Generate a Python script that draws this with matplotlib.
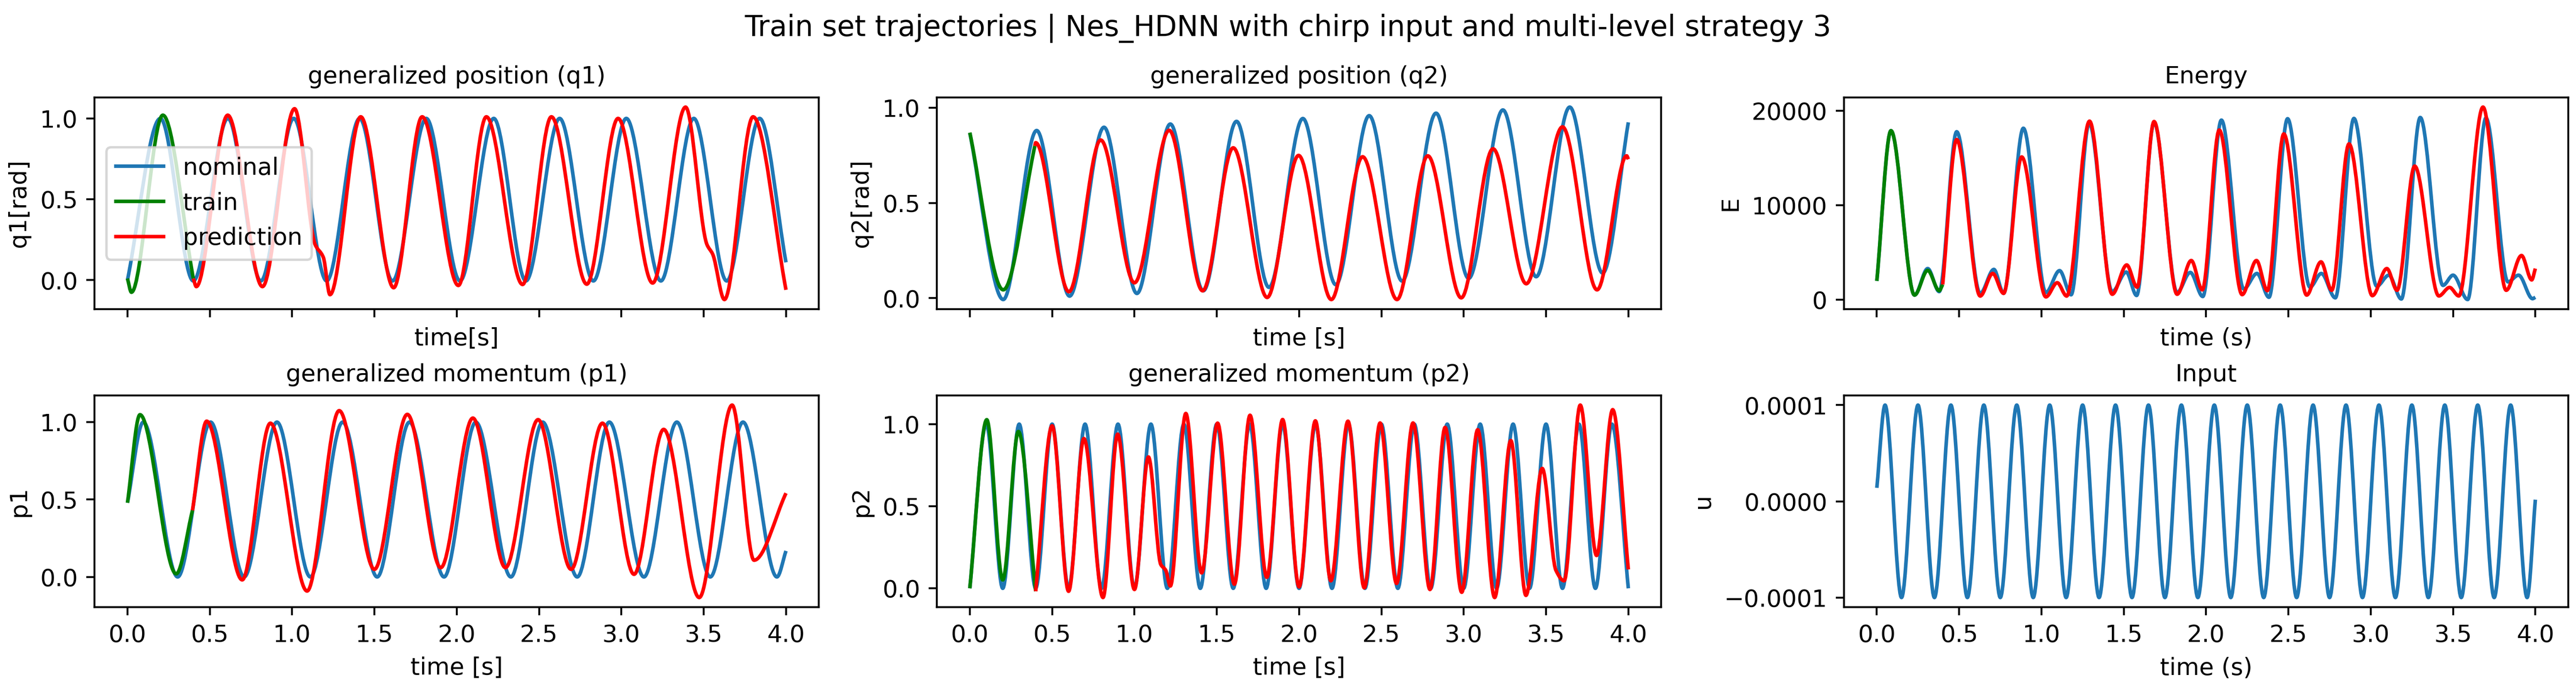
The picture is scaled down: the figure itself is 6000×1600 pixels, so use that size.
import numpy as np
import matplotlib
matplotlib.use('Agg')
import matplotlib.pyplot as plt
from matplotlib.path import Path
from matplotlib.patches import PathPatch

"""
Values read off the reference: each series is given by its turning points
(time, value); the curve between them is drawn as a smooth bezier path.
"""
NOMINAL_COLOR = 'tab:blue'
TRAIN_COLOR = 'green'
PRED_COLOR = 'red'

# ---------- q1 ----------
q1_nom_t = [0.0, 0.2, 0.40, 0.61, 0.81, 1.01, 1.21, 1.41, 1.61, 1.815, 2.02,
            2.225, 2.42, 2.625, 2.83, 3.03, 3.24, 3.44, 3.64, 3.84, 4.0]
q1_nom_v = [0.0, 1.0, -0.005, 1.0, -0.005, 1.0, -0.005, 1.0, -0.005, 1.0, -0.005,
            1.0, -0.005, 1.0, -0.005, 1.0, -0.005, 1.0, -0.005, 1.0, 0.11]
q1_train_t = [0.0, 0.024, 0.215, 0.40]
q1_train_v = [0.01, -0.075, 1.02, 0.01]
q1_pred_t = [0.40, 0.418, 0.609, 0.82, 1.015, 1.14, 1.19, 1.23, 1.417, 1.617, 1.79,
             2.01, 2.18, 2.40, 2.575, 2.79, 2.98, 3.19, 3.39, 3.52, 3.555, 3.626,
             3.80, 4.0]
q1_pred_v = [0.01, -0.04, 1.02, -0.04, 1.06, 0.22, 0.14, -0.09, 1.01, -0.047, 1.01,
             -0.033, 1.01, -0.027, 1.01, -0.025, 1.0, -0.018, 1.07, 0.22, 0.16, -0.12,
             1.01, -0.06]

# ---------- q2 ----------
q2_nom_t = [0.0, 0.203, 0.406, 0.606, 0.815, 1.015, 1.218, 1.418, 1.62, 1.817, 2.023,
            2.223, 2.426, 2.626, 2.832, 3.03, 3.238, 3.44, 3.644, 3.844, 4.0]
q2_nom_v = [0.868, -0.007, 0.881, 0.011, 0.898, 0.025, 0.915, 0.039, 0.929, 0.057, 0.944,
            0.071, 0.959, 0.09, 0.972, 0.104, 0.989, 0.113, 1.004, 0.132, 0.924]
q2_train_t = [0.0, 0.203, 0.395]
q2_train_v = [0.87, 0.044, 0.80]
q2_pred_t = [0.395, 0.40, 0.602, 0.795, 1.0, 1.211, 1.414, 1.60, 1.806, 1.997, 2.196,
             2.386, 2.595, 2.782, 2.985, 3.178, 3.38, 3.60, 3.81, 3.99, 4.0]
q2_pred_v = [0.80, 0.817, 0.034, 0.831, 0.081, 0.882, 0.039, 0.79, 0.004, 0.75, -0.007,
             0.743, -0.007, 0.748, 0.002, 0.785, 0.076, 0.90, 0.044, 0.748, 0.73]

# ---------- Energy ----------
e_nom_t = [0.0, 0.086, 0.229, 0.309, 0.379, 0.485, 0.628, 0.711, 0.77, 0.89, 1.027,
           1.11, 1.18, 1.29, 1.43, 1.515, 1.578, 1.684, 1.824, 1.904, 1.98, 2.093,
           2.229, 2.309, 2.382, 2.495, 2.631, 2.70, 2.785, 2.898, 3.037, 3.11, 3.186,
           3.301, 3.439, 3.50, 3.589, 3.70, 3.834, 3.898, 3.983, 4.0]
e_nom_v = [1990, 17900, 490, 3300, 860, 17790, 675, 3210, 675, 18160, 770,
           3080, 525, 18690, 860, 2930, 450, 18780, 770, 2890, 340, 19020,
           1140, 2780, 260, 19170, 1330, 2780, 200, 19200, 1430, 2600, 75,
           19300, 1520, 2600, 20, 19250, 1890, 2600, 110, 260]
e_train_t = [0.0, 0.086, 0.229, 0.309, 0.379, 0.40]
e_train_v = [1990, 17900, 490, 3110, 960, 1610]
e_pred_t = [0.40, 0.485, 0.628, 0.704, 0.77, 0.88, 1.027, 1.096, 1.153, 1.292, 1.43,
            1.518, 1.581, 1.684, 1.824, 1.91, 1.977, 2.08, 2.219, 2.306, 2.372, 2.472,
            2.611, 2.698, 2.763, 2.868, 3.01, 3.098, 3.16, 3.267, 3.414, 3.479, 3.535,
            3.682, 3.823, 3.916, 3.978, 4.0]
e_pred_v = [1610, 16960, 390, 2780, 675, 15120, 300, 1800, 390, 18910, 580,
            3680, 1330, 18870, 580, 4150, 1050, 17970, 540, 4150, 960, 17560,
            490, 4010, 1000, 16500, 430, 3300, 1000, 14150, 400, 1300, 400,
            20400, 1000, 4680, 2100, 3300]

# ---------- p1 ----------
p1_nom_t = [0.0, 0.096, 0.305, 0.505, 0.709, 0.908, 1.111, 1.307, 1.517, 1.713, 1.923,
            2.116, 2.329, 2.522, 2.732, 2.927, 3.137, 3.337, 3.54, 3.739, 3.945, 4.0]
p1_nom_v = [0.479, 1.0, 0.0, 1.0, 0.0, 1.0, 0.0, 1.0, 0.0, 1.0, 0.0,
            1.0, 0.0, 1.0, 0.0, 1.0, 0.0, 1.0, 0.0, 1.0, 0.0, 0.168]
p1_train_t = [0.0, 0.076, 0.296, 0.395]
p1_train_v = [0.479, 1.048, 0.02, 0.43]
p1_pred_t = [0.395, 0.481, 0.697, 0.868, 1.091, 1.286, 1.50, 1.70, 1.903, 2.098, 2.296,
             2.494, 2.695, 2.885, 3.077, 3.257, 3.473, 3.673, 3.806, 4.0]
p1_pred_v = [0.43, 1.006, -0.019, 0.993, -0.091, 1.074, 0.049, 1.05, 0.06, 1.026, 0.06,
             1.016, 0.049, 0.993, 0.017, 0.953, -0.133, 1.11, 0.108, 0.541]

# ---------- p2 ----------
p2_nom_t = [0.0, 0.1, 0.2, 0.3, 0.4, 0.5, 0.6, 0.7, 0.8, 0.9, 1.0, 1.1, 1.2, 1.3,
            1.4, 1.5, 1.6, 1.7, 1.8, 1.9, 2.0, 2.1, 2.2, 2.3, 2.4, 2.5, 2.6, 2.7,
            2.8, 2.9, 3.0, 3.1, 3.2, 3.3, 3.4, 3.5, 3.6, 3.7, 3.8, 3.9, 4.0]
p2_nom_v = [0.0, 1.0, 0.0, 1.0, 0.0, 1.0, 0.0, 1.0, 0.0, 1.0, 0.0, 1.0, 0.0, 1.0,
            0.0, 1.0, 0.0, 1.0, 0.0, 1.0, 0.0, 1.0, 0.0, 1.0, 0.0, 1.0, 0.0, 1.0,
            0.0, 1.0, 0.0, 1.0, 0.0, 1.0, 0.0, 1.0, 0.0, 1.0, 0.0, 1.0, 0.0]
p2_train_t = [0.0, 0.103, 0.2, 0.295, 0.40]
p2_train_v = [0.0, 1.027, 0.051, 0.955, -0.018]
p2_pred_t = [0.40, 0.50, 0.60, 0.693, 0.809, 0.898, 1.0, 1.085, 1.16, 1.19, 1.218,
             1.312, 1.408, 1.505, 1.607, 1.702, 1.804, 1.90, 2.0, 2.099, 2.193, 2.297,
             2.396, 2.492, 2.592, 2.692, 2.795, 2.887, 2.988, 3.085, 3.188, 3.286,
             3.378, 3.477, 3.56, 3.61, 3.708, 3.807, 3.905, 4.0]
p2_pred_v = [-0.018, 0.99, -0.018, 0.912, -0.056, 0.939, -0.007, 0.80, 0.145, 0.11, 0.014,
             1.065, 0.094, 1.006, 0.025, 1.054, 0.067, 1.028, 0.009, 1.02, 0.046, 1.018,
             0.003, 1.007, 0.03, 1.007, -0.007, 0.98, -0.024, 0.966, -0.056, 0.90,
             -0.043, 0.73, 0.11, 0.046, 1.116, 0.20, 1.088, 0.115]

# ---------- input ----------
u_t = [0.0, 0.05, 0.15, 0.25, 0.35, 0.45, 0.55, 0.65, 0.75, 0.85, 0.95, 1.05, 1.15,
       1.25, 1.35, 1.45, 1.55, 1.65, 1.75, 1.85, 1.95, 2.05, 2.15, 2.25, 2.35, 2.45,
       2.55, 2.65, 2.75, 2.85, 2.95, 3.05, 3.15, 3.25, 3.35, 3.45, 3.55, 3.65, 3.75,
       3.85, 3.95, 4.0]
u_v = [1.4e-5, 1e-4, -1e-4, 1e-4, -1e-4, 1e-4, -1e-4, 1e-4, -1e-4, 1e-4, -1e-4,
       1e-4, -1e-4, 1e-4, -1e-4, 1e-4, -1e-4, 1e-4, -1e-4, 1e-4, -1e-4, 1e-4,
       -1e-4, 1e-4, -1e-4, 1e-4, -1e-4, 1e-4, -1e-4, 1e-4, -1e-4, 1e-4, -1e-4,
       1e-4, -1e-4, 1e-4, -1e-4, 1e-4, -1e-4, 1e-4, -1e-4, 1.7e-6]


def knotSlopes(t, v):
    # flat at turning points, shape preserving (harmonic mean) elsewhere
    n = len(t)
    h = np.diff(t)
    d = np.diff(v) / h
    m = np.zeros(n)
    m[0] = d[0]
    m[-1] = d[-1]
    for i in range(1, n - 1):
        if d[i - 1] * d[i] > 0:
            w1 = 2 * h[i] + h[i - 1]
            w2 = h[i] + 2 * h[i - 1]
            m[i] = (w1 + w2) / (w1 / d[i - 1] + w2 / d[i])
    return m


def curvePatch(t, v, color):
    t = np.asarray(t, float)
    v = np.asarray(v, float)
    m = knotSlopes(t, v)
    verts = [(t[0], v[0])]
    for i in range(len(t) - 1):
        h = (t[i + 1] - t[i]) / 3
        verts.append((t[i] + h, v[i] + m[i] * h))
        verts.append((t[i + 1] - h, v[i + 1] - m[i + 1] * h))
        verts.append((t[i + 1], v[i + 1]))
    codes = [Path.MOVETO] + [Path.CURVE4] * (len(verts) - 1)
    return PathPatch(Path(verts, codes), facecolor='none', edgecolor=color,
                     lw=1.5, capstyle='butt', joinstyle='round')


def drawPanel(ax, series, title, xlabel, ylabel):
    for t, v, color in series:
        ax.add_patch(curvePatch(t, v, color))
    ax.autoscale_view()
    ax.set_title(title, fontsize=10)
    ax.set_xlabel(xlabel)
    ax.set_ylabel(ylabel)


fig, axs = plt.subplots(2, 3, figsize=(15, 4), dpi=400, sharex=True)

drawPanel(axs[0, 0], [(q1_nom_t, q1_nom_v, NOMINAL_COLOR),
                      (q1_train_t, q1_train_v, TRAIN_COLOR),
                      (q1_pred_t, q1_pred_v, PRED_COLOR)],
          "generalized position (q1)", "time[s]", "q1[rad]")
drawPanel(axs[0, 1], [(q2_nom_t, q2_nom_v, NOMINAL_COLOR),
                      (q2_train_t, q2_train_v, TRAIN_COLOR),
                      (q2_pred_t, q2_pred_v, PRED_COLOR)],
          "generalized position (q2)", "time [s]", "q2[rad]")
drawPanel(axs[0, 2], [(e_nom_t, e_nom_v, NOMINAL_COLOR),
                      (e_train_t, e_train_v, TRAIN_COLOR),
                      (e_pred_t, e_pred_v, PRED_COLOR)],
          "Energy", "time (s)", "E")
drawPanel(axs[1, 0], [(p1_nom_t, p1_nom_v, NOMINAL_COLOR),
                      (p1_train_t, p1_train_v, TRAIN_COLOR),
                      (p1_pred_t, p1_pred_v, PRED_COLOR)],
          "generalized momentum (p1)", "time [s]", "p1")
drawPanel(axs[1, 1], [(p2_nom_t, p2_nom_v, NOMINAL_COLOR),
                      (p2_train_t, p2_train_v, TRAIN_COLOR),
                      (p2_pred_t, p2_pred_v, PRED_COLOR)],
          "generalized momentum (p2)", "time [s]", "p2")
drawPanel(axs[1, 2], [(u_t, u_v, NOMINAL_COLOR)],
          "Input", "time (s)", "u")

# legend handles as plain lines
ax = axs[0, 0]
ax.plot([], [], color=NOMINAL_COLOR, label='nominal')
ax.plot([], [], color=TRAIN_COLOR, label='train')
ax.plot([], [], color=PRED_COLOR, label='prediction')
ax.legend(loc='center left')

lefts = [0.0367, 0.3637, 0.7158]
bottoms = [0.55, 0.11625]
for r in range(2):
    for c in range(3):
        axs[r, c].set_position([lefts[c], bottoms[r], 0.2812, 0.3081])

fig.suptitle("Train set trajectories | Nes_HDNN with chirp input and multi-level strategy 3",
             fontsize=12)
fig.savefig('out.png', dpi=400)
